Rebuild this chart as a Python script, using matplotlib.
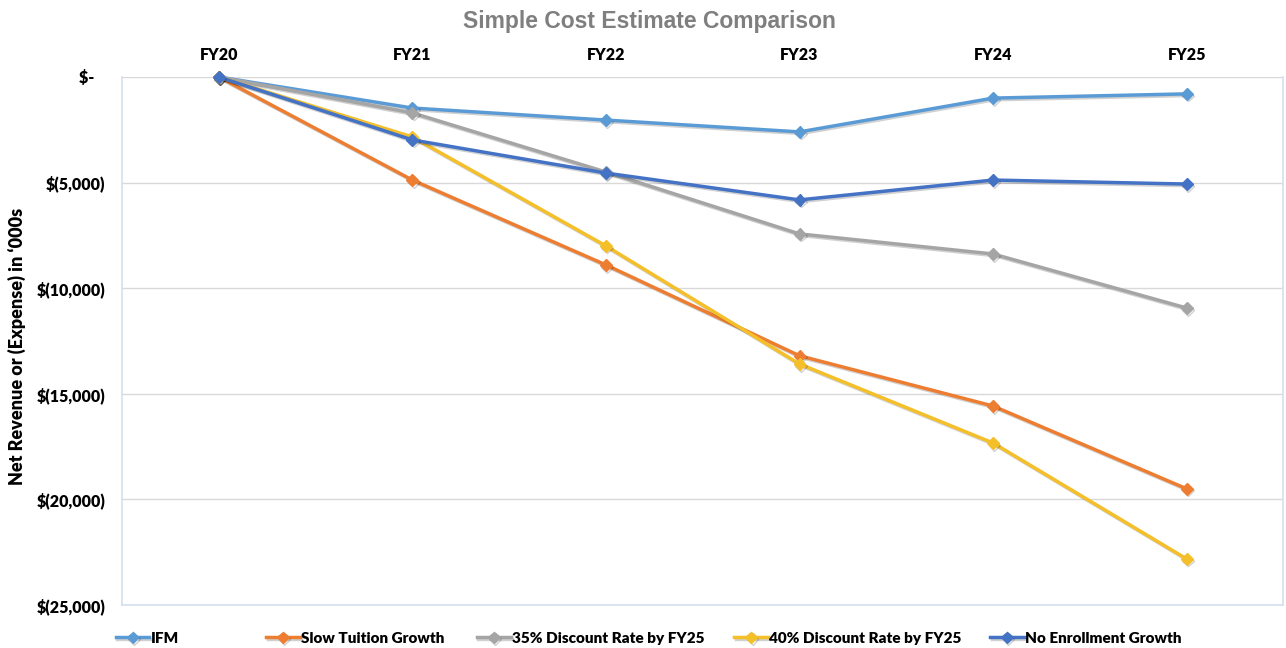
import matplotlib
matplotlib.use('Agg')
import matplotlib.pyplot as plt
import matplotlib.ticker as mticker
import matplotlib.patheffects as pe

# ── Data (in $ '000s) ──────────────────────────────────────────────────────
years = ['FY20', 'FY21', 'FY22', 'FY23', 'FY24', 'FY25']

ifm          = [0, -1470, -2040, -2600, -1000, -800]
slow_tuition = [0, -4880, -8900, -13200, -15580, -19500]
discount_35  = [0, -1700, -4500, -7430, -8380, -10940]
discount_40  = [0, -2840, -8000, -13590, -17330, -22820]
no_enroll    = [0, -2980, -4550, -5820, -4880, -5070]

series = [
    ('IFM', ifm, '#5B9BD5'),
    ('Slow Tuition Growth', slow_tuition, '#ED7D31'),
    ('35% Discount Rate by FY25', discount_35, '#A5A5A5'),
    ('40% Discount Rate by FY25', discount_40, '#F5BF2A'),
    ('No Enrollment Growth', no_enroll, '#4472C4'),
]

# left edge of each legend entry, as a fraction of figure width
legend_x = [0.090, 0.207, 0.371, 0.571, 0.770]

plt.rcParams['font.family'] = ['Lato', 'DejaVu Sans']
WEIGHT = 'heavy'

fig = plt.figure(figsize=(12.86, 6.48), dpi=100)
ax = fig.add_axes([0.0949, 0.0664, 0.9031, 0.8148])

x = list(range(len(years)))
shadow = [pe.SimpleLineShadow(offset=(1.0, -1.2), alpha=0.18, shadow_color='black'),
          pe.Normal()]

handles = []
for label, vals, color in series:
    line, = ax.plot(x, vals, color=color, lw=2.5, marker='D', markersize=6,
                    label=label, clip_on=False, zorder=3, path_effects=shadow)
    handles.append(line)

# ── Axes ───────────────────────────────────────────────────────────────────
ax.set_xlim(-0.5, len(years) - 0.5)
ax.set_ylim(-25000, 0)
ax.set_xticks(x)
ax.set_xticklabels(years, fontsize=11.5, fontweight=WEIGHT)
ax.xaxis.tick_top()
ax.tick_params(axis='x', length=0, pad=10)

ax.set_yticks([0, -5000, -10000, -15000, -20000, -25000])
ax.yaxis.set_major_formatter(mticker.FuncFormatter(
    lambda v, p: '$-   ' if v == 0 else f'$({abs(v):,.0f})'))
ax.tick_params(axis='y', length=0, pad=12, labelsize=11.5)
for t in ax.get_yticklabels():
    t.set_fontweight(WEIGHT)

ax.grid(True, axis='y', color='#d9d9d9', lw=1)
ax.set_axisbelow(True)

for side in ['left', 'right', 'bottom']:
    ax.spines[side].set_color('#d3e0ee')
    ax.spines[side].set_linewidth(1.2)
ax.spines['top'].set_visible(False)

ax.set_ylabel("Net Revenue or (Expense) in \u2018000s", fontsize=13,
              fontweight=WEIGHT)
ax.yaxis.set_label_coords(-0.083, 0.49)

fig.suptitle('Simple Cost Estimate Comparison', x=0.505, y=0.985,
             fontsize=16.5, fontweight='bold', color='#7f7f7f',
             family=['Liberation Sans', 'DejaVu Sans'])

# ── Legend: one entry per slot along the bottom ────────────────────────────
for h, (label, _, _), lx in zip(handles, series, legend_x):
    fig.legend([h], [label], loc='center left', bbox_to_anchor=(lx, 0.015),
               frameon=False, prop={'weight': WEIGHT, 'size': 11},
               handlelength=2.2, handletextpad=0.1, borderpad=0,
               borderaxespad=0)

fig.savefig('out.png', dpi=100, facecolor='white')
